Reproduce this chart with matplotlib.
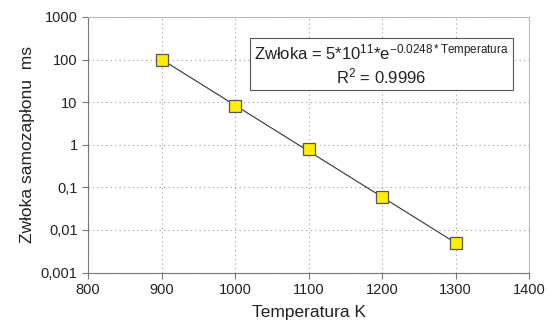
import matplotlib.pyplot as plt
import numpy as np
from matplotlib.ticker import FixedLocator, FixedFormatter, NullLocator

temperatura = [900, 1000, 1100, 1200, 1300]
zwloka = [100, 8, 0.8, 0.06, 0.005]
fit_a = 5e11
fit_b = -0.0248
y_ticks = [0.001, 0.01, 0.1, 1, 10, 100, 1000]
y_labels = ["0,001", "0,01", "0,1", "1", "10", "100", "1000"]

plt.rcParams['font.family'] = ['Liberation Sans', 'DejaVu Sans']
plt.rcParams['mathtext.fontset'] = 'custom'
plt.rcParams['mathtext.rm'] = 'Liberation Sans'
plt.rcParams['mathtext.it'] = 'Liberation Sans'

fig = plt.figure(figsize=(5.5, 3.33), dpi=100)
ax = fig.add_axes([88/550, 1-272.5/333, 441/550, 255.5/333])

# trend line
tt = np.linspace(900, 1300, 50)
ax.plot(tt, fit_a*np.exp(fit_b*tt), color="#333333", lw=0.8, zorder=2)
ax.plot(temperatura, zwloka, ls="none", marker="s", ms=9,
        mfc="#ffee00", mec="#555555", mew=0.9, zorder=3)

ax.set_yscale("log")
ax.set_xlim(800, 1400)
ax.set_ylim(0.001, 1000)
ax.yaxis.set_major_locator(FixedLocator(y_ticks))
ax.yaxis.set_major_formatter(FixedFormatter(y_labels))
ax.yaxis.set_minor_locator(NullLocator())
ax.set_xticks(range(800, 1401, 100))

ax.grid(True, ls=(0, (1, 3)), color="#999999", lw=0.8)
for s in ["top", "right"]:
    ax.spines[s].set_color("#bbbbbb")
for s in ["left", "bottom"]:
    ax.spines[s].set_color("#777777")
ax.tick_params(colors="#777777", labelcolor="#222222", labelsize=10.5, length=4)

ax.set_xlabel("Temperatura K", fontsize=12.5, color="#222222", labelpad=6)
ax.set_ylabel("Zwłoka samozapłonu  ms", fontsize=12.5, color="#222222", labelpad=4)

ax.text(0.665, 0.815,
        "Zwłoka = 5*10$^{11}$*e$^{\\mathrm{-0.0248*Temperatura}}$\nR$^2$ = 0.9996",
        transform=ax.transAxes, ha="center", va="center", fontsize=12,
        color="#222222", multialignment="center", linespacing=1.25,
        bbox=dict(boxstyle="square,pad=0.25", fc="white", ec="#555555", lw=0.8),
        zorder=4)

fig.savefig("out.png", dpi=100)
